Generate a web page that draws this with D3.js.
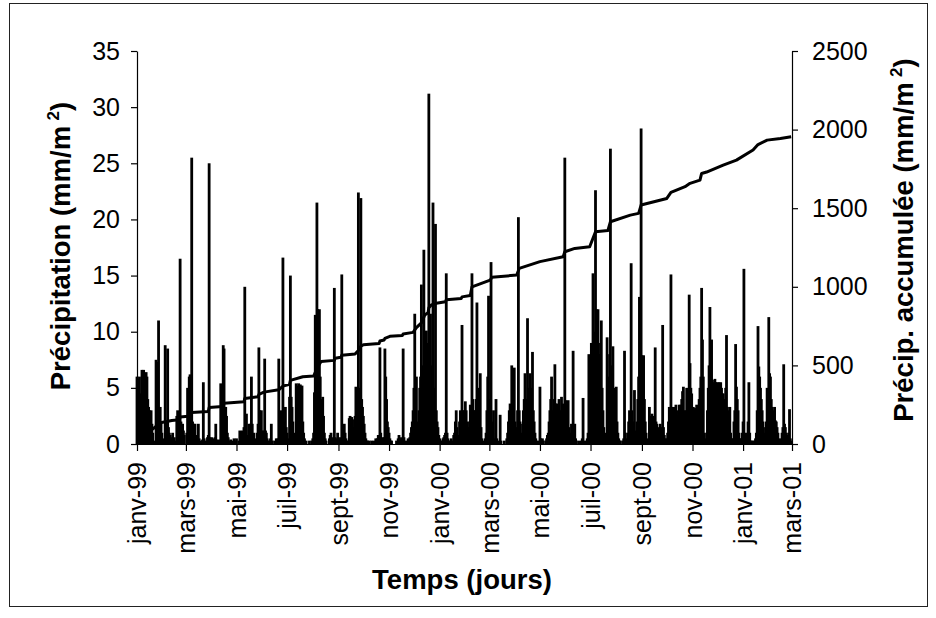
<!DOCTYPE html>
<html><head><meta charset="utf-8">
<script src="https://cdn.jsdelivr.net/npm/d3@7/dist/d3.min.js"></script>
<style>body{margin:0;background:#fff}svg{display:block}</style>
</head><body><svg id="chart" width="936" height="618"></svg>
<script>
// ---- data ----
const startDate = new Date(1999, 0, 1);
const endDate = new Date(2001, 2, 1);

// daily precipitation (mm/m2), 1 Jan 1999 -> 31 Dec 1999
const rain1999 = [
6.0,5.8,5.0,6.0,4.5,3.0,6.6,5.5,6.6,3.0,
2.8,6.4,6.0,4.0,3.3,3.0,2.5,3.0,1.8,1.0,
0.3,0.2,0,7.5,7.3,0.5,11.0,3.0,3.3,2.0,
1.0,0.5,0,0.3,8.8,2.0,0.8,8.5,1.5,1.0,
0.8,0.6,0.4,1.0,0,0.6,0.3,0,2.5,3.0,
1.0,0,16.5,2.0,1.0,1.8,1.2,0.8,0,0,
1.0,5.0,0.5,6.0,6.2,1.5,25.5,2.0,1.8,0.5,
1.8,0.8,0.5,0.3,1.8,0.5,0,0.3,0,0.4,
5.5,0.5,0,0.3,0,0.6,0.8,25.0,0.6,0.4,
0.6,0.3,0.5,0,0.6,1.8,0.4,0,0,0.4,
0,5.4,0.5,0,8.8,8.5,1.5,3.3,2.5,1.0,
0.6,0.3,0,0.4,0,0.3,0,0.5,0,0.3,
0.5,0,0,0.3,1.2,1.0,0.5,1.2,1.0,1.5,
14.0,1.5,2.7,0.5,0.8,1.8,0.4,1.8,6.0,1.8,
0.5,1.0,0.3,0.5,0.3,1.0,1.8,8.6,3.0,2.5,
3.0,1.2,0.5,1.2,7.6,1.2,1.0,0.5,0.3,0,
0.3,0.5,1.8,0.3,0,0,0.3,0,0.5,0.3,
0.5,7.6,1.0,0.5,3.0,2.0,16.6,2.0,1.5,3.3,
1.5,1.0,0.5,0.3,4.2,15.0,4.2,3.3,2.0,1.0,
0.5,0.3,5.4,5.2,5.0,5.4,4.0,5.3,5.0,5.2,
2.0,1.0,0.5,0,0.3,0,0,0,0.3,0,
0,0.3,0.5,1.0,4.6,11.5,4.0,21.5,12.0,11.0,
12.0,6.0,4.0,2.0,4.2,2.5,1.0,0.5,0.3,0,
0,0,0.5,0.8,1.0,0.5,0.6,0.3,13.9,0.6,
0.3,0.5,1.0,0.6,0.3,0.5,0.6,15.1,0.6,1.5,
1.8,1.0,0.5,0.3,0,0.3,2.3,2.5,2.0,2.4,
2.2,0.6,1.5,2.5,5.1,4.5,5.0,22.4,5.0,4.5,
21.9,4.0,3.3,2.5,1.8,1.0,0.5,0.3,0.3,0,
0.3,0,0,0.3,0,0,0.3,0,0.5,0.3,
0.5,0.8,0.6,8.6,1.0,0.5,0.6,0.4,0.6,8.5,
6.0,4.0,2.0,1.5,1.0,0.5,0.3,0.3,0,0,
0,0,0,0.3,0,0.5,0.8,0.5,0.3,0.6,
0.3,8.5,0.6,0.3,0,0,0.3,0.5,0.4,0.6,
1.0,1.5,2.0,3.0,5.0,11.6,4.0,6.0,2.0,1.8,
3.0,5.0,6.0,14.2,6.0,7.0,17.3,5.0,4.0,10.1,
7.0,9.0,31.2,6.0,11.6,7.0,6.0,21.5,5.0,4.0,
19.6,3.0,2.0,1.5,0.8
];

// 1 Jan 2000 -> 31 Dec 2000
const rain2000 = [
0.5,0.3,0,0.3,0.5,0.6,0.8,1.0,15.2,1.0,
0.5,0.3,0,0.3,0.5,0,0.3,0.8,1.0,2.0,
3.0,1.5,0.8,0.5,2.0,3.0,1.5,10.6,3.0,2.5,
3.0,3.8,3.0,2.0,1.5,1.0,2.0,3.5,3.0,15.2,
4.0,3.0,2.0,3.0,4.0,12.6,4.0,5.0,3.0,6.3,
1.5,0.5,0,0.3,0,0.5,1.0,3.0,6.0,13.2,
4.0,3.0,16.2,2.0,1.0,3.0,0.5,0.3,4.0,0.5,
0,0,0.3,2.6,0.3,0,0,0,0.3,0,
0,0.5,1.0,2.0,3.0,3.6,2.5,7.0,3.0,4.0,
6.8,2.0,1.5,1.0,3.0,20.2,3.0,2.0,1.0,0.5,
1.8,3.0,4.0,6.3,4.0,2.0,11.2,5.0,4.0,6.3,
5.0,3.0,8.2,3.0,2.0,1.0,0.5,0.3,0,0,
0.3,5.1,0.5,0.3,0.5,0.3,0,0,0.3,0.5,
0.8,1.0,2.0,3.0,4.0,6.0,3.0,2.0,4.0,7.1,
3.6,3.0,3.6,3.0,4.0,3.0,2.5,4.2,3.0,3.6,
2.0,25.5,3.9,2.0,3.0,3.9,1.5,1.0,0.5,1.8,
0.8,8.3,1.5,1.8,0.5,0.3,0,0,0.3,0,
0,0.3,0.5,4.1,0.3,0,0,0.3,0.5,1.0,
8.0,6.0,5.0,9.0,7.0,15.2,8.0,10.0,22.6,12.0,
9.0,12.0,8.0,7.0,9.0,11.0,5.0,3.0,1.5,0.5,
0.3,1.0,9.5,6.0,4.0,8.0,26.3,7.0,6.0,8.7,
5.0,4.0,3.0,5.1,2.0,1.0,0.5,0.3,0.3,0,
0,0.3,0.5,8.3,1.0,0.5,0.3,1.0,2.0,3.0,
2.0,16.1,3.0,2.0,1.0,4.8,0.8,1.2,2.0,4.0,
6.0,13.1,4.0,28.1,7.9,5.0,7.9,4.0,2.0,1.0,
0.5,0.3,0.3,3.3,2.0,2.5,2.7,2.5,2.0,1.0,
8.6,2.0,1.8,1.5,1.0,0.8,1.8,1.5,1.0,10.6,
1.5,0.8,0.5,0.3,0.5,1.0,2.0,3.3,2.1,15.1,
3.3,2.1,2.0,3.3,2.5,3.5,2.5,2.1,3.0,3.5,
2.0,3.5,4.0,4.7,5.1,3.0,2.0,3.0,5.0,3.5,
4.0,13.3,7.2,5.0,4.5,3.2,3.3,3.0,3.2,3.0,
3.5,3.1,3.3,4.0,5.0,6.0,13.9,9.3,6.0,1.0,
0.5,0.3,1.0,3.0,5.0,7.0,12.2,6.0,9.3,5.7,
5.5,5.0,5.8,5.5,5.0,5.5,5.2,5.5,4.8,5.5,
5.0,4.5,4.5,3.0,4.0,5.0,9.7,3.3,3.0,2.0,
3.3,1.0,0.5,0.3,0.5,2.0,3.0,8.9,5.1,4.0,
3.0,1.0,0.5,0.3,0.5,1.0
];

// 1 Jan 2001 -> 28 Feb 2001
const rain2001 = [
2.0,15.6,1.0,0.5,0.3,1.0,2.0,5.5,1.0,
0.3,0.3,0,0.3,0,0.3,0.5,1.0,3.0,10.5,
6.9,6.0,5.0,4.0,3.0,2.0,1.0,0.5,1.5,2.0,
5.0,3.0,11.3,6.3,6.0,4.0,3.3,3.0,2.0,3.3,
2.1,2.0,1.5,1.0,0.5,0.3,0.3,0.5,1.0,1.5,
7.1,1.8,1.5,1.0,0.5,0.8,1.0,3.1,0.5,0.3
];

// cumulative precipitation: day offset from 1 Jan 1999, value (mm/m2)
const cumDay = [0,5,10,20,28,42,51,52,65,66,86,87,103,105,129,130,146,147,153,171,176,184,185,200,213,218,222,238,239,246,247,263,267,270,273,292,293,298,299,305,320,321,333,337,343,347,351,352,355,361,372,373,391,392,402,404,426,428,458,461,486,514,516,528,546,553,568,571,595,605,608,639,644,661,667,679,681,687,707,723,743,749,760,776,789];
const cumMm = [0,30,60,100,135,150,155,172,178,200,206,232,238,260,268,290,300,315,330,345,368,380,405,428,432,490,525,532,545,552,565,572,595,622,632,640,655,662,672,685,690,700,710,740,770,820,835,866,884,895,905,918,926,936,945,1000,1043,1060,1075,1117,1160,1191,1223,1244,1255,1350,1358,1414,1456,1467,1520,1562,1600,1637,1658,1679,1721,1730,1774,1806,1870,1905,1933,1944,1955];

const xTickLabels = ["janv-99","mars-99","mai-99","juil-99","sept-99","nov-99","janv-00","mars-00","mai-00","juil-00","sept-00","nov-00","janv-01","mars-01"];
const leftTicks = [0,5,10,15,20,25,30,35];
const rightTicks = [0,500,1000,1500,2000,2500];

// ---- chart ----
const FONT = "'Liberation Sans', Arial, Helvetica, sans-serif";
const svg = d3.select("#chart");
svg.append("rect").attr("width",936).attr("height",618).attr("fill","#fff");
svg.append("rect").attr("x",9.5).attr("y",3.5).attr("width",918).attr("height",603)
  .attr("fill","none").attr("stroke","#222").attr("stroke-width",1);

const L = 137, R = 792, T = 51, B = 444;
const x = d3.scaleTime().domain([startDate, endDate]).range([L, R]);
const yL = d3.scaleLinear().domain([0, 35]).range([B, T]);
const yR = d3.scaleLinear().domain([0, 2500]).range([B, T]);

const daily = rain1999.concat(rain2000, rain2001)
  .map((v, i) => ({date: d3.timeDay.offset(startDate, i), v}));

// bars
svg.append("g").selectAll("rect").data(daily.filter(d => d.v > 0)).join("rect")
  .attr("x", d => x(d.date) - 1.4).attr("width", 2.8)
  .attr("y", d => yL(d.v)).attr("height", d => B - yL(d.v))
  .attr("fill", "#000");

// cumulative line
const cum = cumDay.map((d, i) => ({date: d3.timeDay.offset(startDate, d), v: cumMm[i]}));
svg.append("path").datum(cum)
  .attr("d", d3.line().x(d => x(d.date)).y(d => yR(d.v)))
  .attr("fill", "none").attr("stroke", "#000").attr("stroke-width", 3)
  .attr("stroke-linejoin", "round");

// axes
const tickDates = d3.timeMonth.every(2).range(startDate, d3.timeDay.offset(endDate, 1));
const gx = svg.append("g").attr("transform", `translate(0,${B})`)
  .call(d3.axisBottom(x).tickValues(tickDates).tickFormat((d, i) => xTickLabels[i])
    .tickSize(7).tickSizeOuter(0));
gx.selectAll("text").attr("transform", "rotate(-90)").attr("text-anchor", "end")
  .attr("x", -18).attr("y", 0).attr("dy", "0.35em");

const gl = svg.append("g").attr("transform", `translate(${L},0)`)
  .call(d3.axisLeft(yL).tickValues(leftTicks).tickFormat(d3.format("d"))
    .tickSize(6).tickPadding(11).tickSizeOuter(0));
const gr = svg.append("g").attr("transform", `translate(${R},0)`)
  .call(d3.axisRight(yR).tickValues(rightTicks).tickFormat(d3.format("d"))
    .tickSize(6).tickPadding(14).tickSizeOuter(0));

[gx, gl, gr].forEach(g => {
  g.attr("font-family", FONT).attr("font-size", 25);
  g.selectAll("text").attr("fill", "#000");
  g.selectAll("line,path").attr("stroke", "#000").attr("stroke-width", 1.2);
});

// titles
function yTitle(tx, ty, main) {
  const t = svg.append("text").attr("transform", `translate(${tx},${ty}) rotate(-90)`)
    .attr("text-anchor", "middle").attr("font-family", FONT).attr("font-size", 27.5)
    .attr("font-weight", "bold").attr("fill", "#000");
  t.append("tspan").text(main + " (mm/m\u2009");
  t.append("tspan").attr("dy", -11).attr("font-size", 17).text("2");
  t.append("tspan").attr("dy", 11).text(")");
}
yTitle(70, 246, "Précipitation");
yTitle(913, 240, "Précip. accumulée");

svg.append("text").attr("x", 462).attr("y", 589).attr("text-anchor", "middle")
  .attr("font-family", FONT).attr("font-size", 27.5).attr("font-weight", "bold")
  .attr("fill", "#000").text("Temps (jours)");
</script></body></html>
